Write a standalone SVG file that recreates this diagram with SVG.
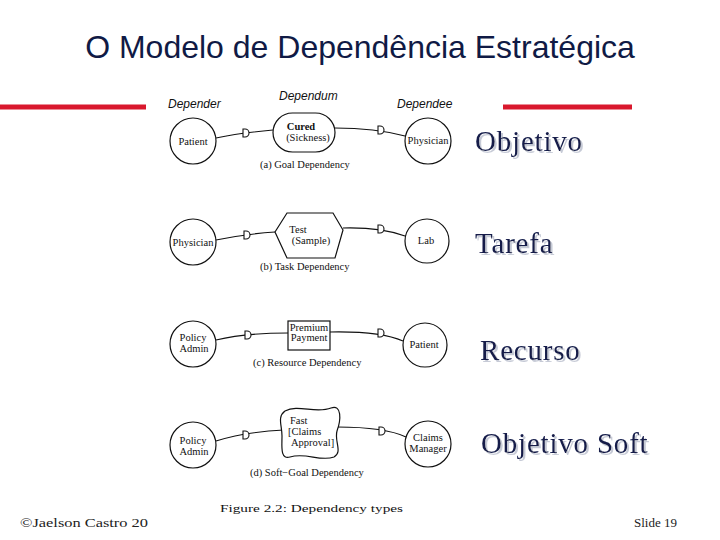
<svg xmlns="http://www.w3.org/2000/svg" width="720" height="540" viewBox="0 0 720 540">
<defs>
<style>
.title{font-family:"Liberation Sans",Arial,sans-serif;font-size:32px;fill:#101a45}
.role{font-family:"Liberation Sans",Arial,sans-serif;font-size:12px;font-style:italic;fill:#111}
.lbl{font-family:"Liberation Serif","Times New Roman",serif;font-size:10.5px;fill:#111;text-anchor:middle}
.cap{font-family:"Liberation Serif","Times New Roman",serif;font-size:10.5px;fill:#111}
.side{font-family:"Liberation Serif","Times New Roman",serif;font-size:29px;fill:#141c4a;letter-spacing:0.8px;filter:url(#shadow)}
.foot{font-family:"Liberation Serif","Times New Roman",serif;font-size:12.5px;fill:#222}
.shape{fill:#fff;stroke:#111;stroke-width:1.2}
.conn{fill:none;stroke:#111;stroke-width:1.1}
.red{stroke:#d9182d;stroke-width:5}
</style>
<filter id="shadow" x="-5%" y="-20%" width="115%" height="150%">
<feDropShadow dx="2" dy="2" stdDeviation="0.6" flood-color="#b8bdcc" flood-opacity="0.8"/>
</filter>
<path id="dmark" d="M-3,-4 L-3,4 L-1,4 A4,4 0 0 0 -1,-4 Z" fill="#fff" stroke="#111" stroke-width="1.1"/>
</defs>
<rect width="720" height="540" fill="#fff"/>
<text class="title" x="360" y="58" text-anchor="middle">O Modelo de Dependência Estratégica</text>
<line class="red" x1="0" y1="107" x2="146" y2="107"/>
<line class="red" x1="503" y1="107" x2="632" y2="107"/>

<g id="roles">
<text class="role" x="168" y="108">Depender</text>
<text class="role" x="279" y="100">Dependum</text>
<text class="role" x="397" y="108">Dependee</text>
</g>

<g id="connectors">
<path class="conn" d="M216,138 Q240,133 273,130"/>
<path class="conn" d="M335,128 Q375,128 405,136"/>
<path class="conn" d="M216,240 Q245,234 275,232"/>
<path class="conn" d="M343,228 Q380,227 405,236"/>
<path class="conn" d="M216,340 Q245,333 288,333"/>
<path class="conn" d="M330,332 Q380,331 403,341"/>
<path class="conn" d="M216,441 Q245,432 284,430"/>
<path class="conn" d="M337,427 Q385,427 406,437"/>
<use href="#dmark" x="246" y="133"/>
<use href="#dmark" x="381" y="130"/>
<use href="#dmark" x="247" y="235"/>
<use href="#dmark" x="381" y="229"/>
<use href="#dmark" x="248" y="335"/>
<use href="#dmark" x="381" y="333"/>
<use href="#dmark" x="246" y="435"/>
<use href="#dmark" x="382" y="431"/>
</g>

<g id="a-patient"><circle class="shape" cx="193" cy="141" r="23"/><text class="lbl" x="193" y="145">Patient</text></g>
<g id="a-cured"><rect class="shape" x="273" y="113" width="62" height="39" rx="19.5"/><text class="lbl" x="301" y="130" font-weight="bold">Cured</text><text class="lbl" x="308" y="141">(Sickness)</text></g>
<g id="a-physician"><circle class="shape" cx="428" cy="141" r="23"/><text class="lbl" x="428" y="144">Physician</text></g>
<text class="cap" x="260" y="168">(a)  Goal Dependency</text>

<g id="b-physician"><circle class="shape" cx="193" cy="242" r="23"/><text class="lbl" x="193" y="246">Physician</text></g>
<g id="b-test"><polygon class="shape" points="275,232 287,213 333,213 343,230 335,258 287,258"/><text class="lbl" x="298" y="233">Test</text><text class="lbl" x="311" y="244">(Sample)</text></g>
<g id="b-lab"><circle class="shape" cx="427" cy="241" r="22"/><text class="lbl" x="426" y="244">Lab</text></g>
<text class="cap" x="260" y="270">(b)  Task Dependency</text>

<g id="c-admin"><circle class="shape" cx="193" cy="344" r="23"/><text class="lbl" x="193" y="341">Policy</text><text class="lbl" x="194" y="352">Admin</text></g>
<g id="c-payment"><rect class="shape" x="288" y="321" width="42" height="29"/><text class="lbl" x="309" y="331">Premium</text><text class="lbl" x="309" y="341">Payment</text></g>
<g id="c-patient"><circle class="shape" cx="425" cy="345" r="22"/><text class="lbl" x="424" y="348">Patient</text></g>
<text class="cap" x="253" y="366">(c)  Resource Dependency</text>

<g id="d-admin"><circle class="shape" cx="193" cy="445" r="23"/><text class="lbl" x="193" y="444">Policy</text><text class="lbl" x="194" y="455">Admin</text></g>
<g id="d-fast"><path class="shape" d="M285,411 C298,404 316,414 331,408 C342,404 341,420 337,431 C334,441 343,452 334,457 C320,462 306,452 290,457 C280,460 282,446 282,436 C282,425 277,417 285,411 Z"/><text class="cap" x="290" y="424">Fast</text><text class="cap" x="288" y="435">[Claims</text><text class="cap" x="291" y="446">Approval]</text></g>
<g id="d-manager"><circle class="shape" cx="428" cy="444" r="23"/><text class="lbl" x="428" y="441">Claims</text><text class="lbl" x="428" y="452">Manager</text></g>
<text class="cap" x="250" y="476">(d)  Soft−Goal Dependency</text>

<text class="cap" x="220" y="512" font-size="14.5" textLength="183" lengthAdjust="spacingAndGlyphs">Figure 2.2: Dependency types</text>

<g id="side-labels">
<text class="side" x="475" y="151">Objetivo</text>
<text class="side" x="475" y="253">Tarefa</text>
<text class="side" x="480" y="360">Recurso</text>
<text class="side" x="481" y="453">Objetivo Soft</text>
</g>

<text class="foot" x="20" y="527" font-size="12" textLength="128" lengthAdjust="spacingAndGlyphs">©Jaelson Castro  20</text>
<text class="foot" x="634" y="527" font-size="12" textLength="43" lengthAdjust="spacingAndGlyphs">Slide  19</text>
</svg>
